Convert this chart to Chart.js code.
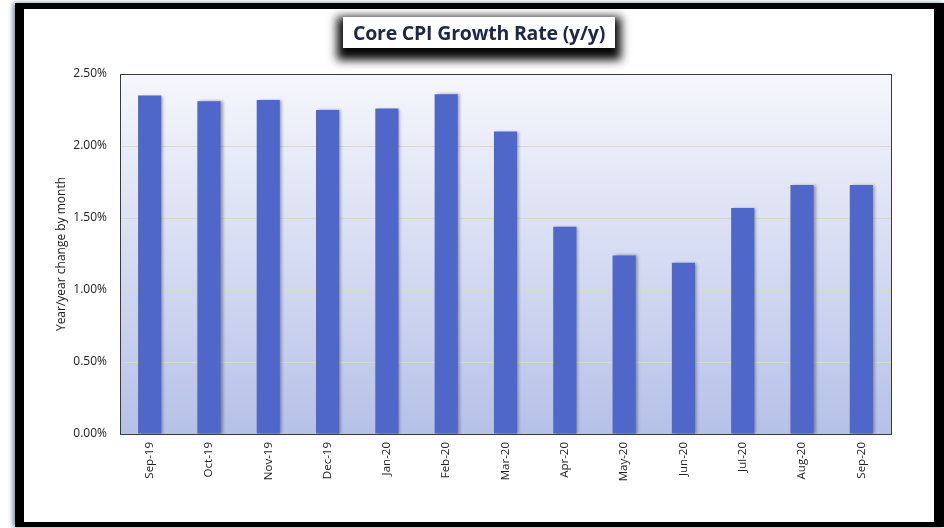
<!DOCTYPE html>
<html lang="en">
<head>
<meta charset="utf-8">
<title>Core CPI Growth Rate</title>
<script src="https://cdn.jsdelivr.net/npm/chart.js"></script>
<style>
  html, body { margin: 0; padding: 0; background: #fff; }
  body { width: 944px; height: 528px; position: relative; overflow: hidden; }
  #frame {
    position: absolute; left: 15px; top: 3px; width: 910px; height: 513px;
    border-style: solid; border-color: #000;
    border-width: 6px 10px 5px 9px;
    background: #fff;
    box-shadow: -2px 0 5px #6f8b98;
  }
  #wrap { position: absolute; left: 0; top: 0; width: 944px; height: 528px; }
  #title {
    position: absolute; left: 343px; top: 17px; width: 272px; height: 31px;
    background: #fff; color: #1f2746;
    font-family: 'Open Sans', sans-serif; font-weight: 700; font-size: 19.5px;
    letter-spacing: -0.2px;
    line-height: 31px; text-align: center; white-space: nowrap;
    box-shadow: 0 6px 9px 6px rgba(0,0,0,0.97);
  }
</style>
</head>
<body>
<div id="frame"></div>
<div id="wrap"><canvas id="myChart" width="944" height="528"></canvas></div>
<div id="title">Core CPI Growth Rate (y/y)</div>

<script>
  // months on the x axis
  const months = ['Sep-19', 'Oct-19', 'Nov-19', 'Dec-19', 'Jan-20', 'Feb-20', 'Mar-20',
                  'Apr-20', 'May-20', 'Jun-20', 'Jul-20', 'Aug-20', 'Sep-20'];
  // core CPI year/year change, percent
  const coreCpi = [2.35, 2.31, 2.32, 2.25, 2.26, 2.36, 2.10, 1.44, 1.24, 1.19, 1.57, 1.73, 1.73];
  const yTicks = [0, 0.5, 1.0, 1.5, 2.0, 2.5];

  // plot area background + box around it
  const plotBg = {
    id: 'plotBg',
    beforeDraw(chart) {
      const { ctx, chartArea: a } = chart;
      const g = ctx.createLinearGradient(0, a.top, 0, a.bottom);
      g.addColorStop(0, '#f6f7fc');
      g.addColorStop(1, '#b6c1e8');
      ctx.save();
      ctx.fillStyle = g;
      ctx.fillRect(a.left, a.top, a.right - a.left, a.bottom - a.top);
      ctx.restore();
    },
    beforeDatasetsDraw(chart) {
      const ctx = chart.ctx;
      ctx.save();
      ctx.shadowColor = 'rgba(0,0,0,0.35)';
      ctx.shadowBlur = 3;
      ctx.shadowOffsetX = 2;
      ctx.shadowOffsetY = 0;
    },
    afterDatasetsDraw(chart) {
      chart.ctx.restore();
    },
    afterDraw(chart) {
      const { ctx, chartArea: a } = chart;
      ctx.save();
      ctx.strokeStyle = '#3a3a3a';
      ctx.lineWidth = 1;
      ctx.strokeRect(Math.round(a.left) + 0.5, Math.round(a.top) + 0.5,
                     Math.round(a.right - a.left), Math.round(a.bottom - a.top));
      ctx.restore();
    }
  };

  const ctx = document.getElementById('myChart').getContext('2d');
  const myChart = new Chart(ctx, {
    type: 'bar',
    data: {
      labels: months,
      datasets: [{
        label: 'Core CPI',
        data: coreCpi,
        backgroundColor: '#4f67c9',
        barPercentage: 0.39,
        categoryPercentage: 1.0,
      }]
    },
    options: {
      responsive: false,
      animation: false,
      layout: { padding: { left: 46, right: 53, top: 74, bottom: 34 } },
      plugins: { legend: { display: false }, tooltip: { enabled: false } },
      scales: {
        x: {
          grid: { display: false, drawTicks: false },
          border: { color: '#3a3a3a' },
          ticks: {
            color: '#222', padding: 8, minRotation: 90, maxRotation: 90,
            autoSkip: false,
            font: { family: 'Open Sans', size: 11.5 }
          },
          afterFit(scale) { scale.height = 60; }
        },
        y: {
          min: 0, max: 2.5,
          afterBuildTicks(scale) { scale.ticks = yTicks.map(v => ({ value: v })); },
          afterFit(scale) { scale.width = 74; },
          grid: { color: '#d9d8cc', drawTicks: false },
          border: { color: '#3a3a3a' },
          ticks: {
            color: '#222', padding: 13,
            font: { family: 'Open Sans', size: 12 },
            callback: v => v.toFixed(2) + '%'
          },
          title: {
            display: true, text: 'Year/year change by month', color: '#222',
            padding: { top: 8, bottom: 0 },
            font: { family: 'Open Sans', size: 12 }
          }
        }
      }
    },
    plugins: [plotBg]
  });
</script>
</body>
</html>
